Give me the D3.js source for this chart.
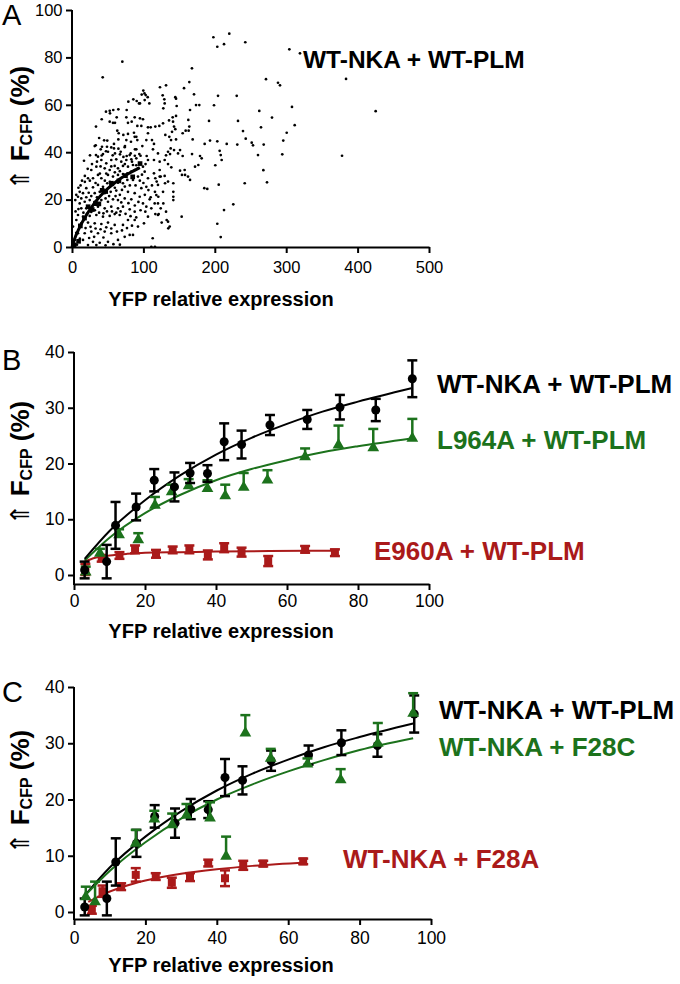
<!DOCTYPE html>
<html><head><meta charset="utf-8">
<script src="https://cdn.jsdelivr.net/npm/d3@7"></script>
<style>
body{margin:0;background:#fff}
svg{display:block}
text{font-family:"Liberation Sans",Arial,Helvetica,sans-serif}
</style>
</head><body>
<svg id="chart" width="680" height="984"></svg>
<script>
// ---------------- DATA ----------------
// Panel A: single-cell scatter (YFP relative expression, ΔF_CFP %)
const scatterX = [43,70.5,198,203.5,212.9,220.3,242.7,304.4,319.3,168,271.7,288.5,291.3,164.3,156.9,131.7,123.2,170.9,204.5,230.7,99.9,101.5,97.6,106,127,129.3,85.9,78.9,90.6,95.2,108.3,145.7,146.6,173.7,178.3,198.9,165.3,127.9,57.8,47.6,64.9,53.2,33.6,41.6,60.2,62.6,76.6,83.6,95.2,91.5,106.4,110.2,122.3,135.9,141,145.7,162.9,164.3,191.9,232.5,280.1,262.3,308.1,311.9,264.7,300.7,239.5,243.3,251.7,253.5,295.9,268.5,231.5,216.7,203.5,185.8,193.3,169,145.7,136.3,155,159.2,138.7,112,114.8,98.5,87.8,82.6,78.4,71.9,64.9,58.8,74.2,88.2,49,47.6,33.2,42,33.6,25.2,41.6,57,60.2,67.2,76.6,82.2,94.3,104.6,131.7,137.3,155,168.1,179.3,206.8,208.3,260.5,294.5,383.8,425.3,378.2,181.6,209.6,200.7,268,273.1,241.9,205.5,185.3,189.5,225.9,212.9,203.5,208.3,151.3,176.9,172.3,151.3,158.3,165.3,141.9,141.9,141.9,141.9,153.6,118.6,124.2,130.3,116.2,120.9,127.9,131.7,132.6,134.9,125.6,113,116.2,103.2,101.8,129.8,93.8,144.7,52.8,52.8,57.4,76.1,78.4,87.8,99.4,97.1,106.4,116.7,127.5,141.5,142.9,130.7,163.4,63.4,65.4,86.8,90.1,76.1,91.5,104.1,49.4,16.8,31.8,40.2,43.4,36.4,50.4,58.8,68.2,73.8,80.8,90.1,113.4,120.4,140.1,144.7,138.2,134.5,142.9,148.5,157.8,154,162.5,106.4,114.8,122.8,129.8,134.5,139.1,122.8,114.8,106.4,116.7,122.8,129.8,134.5,120.4,127.5,118.1,110.2,115.8,120.4,124.2,134.5,136.8,116.7,121.4,41.1,48,55,62,69,76.1,83.1,90.1,94.8,85.4,78.4,71.4,64.4,59.8,52.8,45.8,34.1,27,22.4,29.4,36.4,41.1,50.4,57.4,64.4,71.4,77.5,83.1,87.8,92.4,99.4,101.8,92.4,85.4,77.5,71.4,64.4,57.4,49.4,43.4,36.4,29.4,20,15.4,23.4,31.8,38.8,45.8,54.2,62,70,78.4,87.8,97.1,104.1,94.8,83.1,73.8,64.4,57.4,50.4,41.1,31.8,24.8,17.8,10.8,13,20,28,36.4,45.8,55,64.4,71.4,80.8,87.8,66.8,59.8,52.8,43.4,34.1,24.8,15.4,8.4,6.1,13,22.4,31.8,41.1,50.4,59.8,71.4,78.4,87.8,92.4,80.8,85.4,73.8,64.4,55,45.8,36.4,27,17.8,8.4,3.8,15.4,29.4,38.8,50.4,34.1,22.4,111.1,120.4,104.1,111.1,106.4,100.8,108.8,99.4,102.7,1.4,10.8,8.4,4.6,12,18,25,33,39,46,53,60,67,74,81,89,95,98,90,84,74,67,60,55,48,40,35,28,22,18,14,9,6,5,9,16,21,27,32,38,44,49,56,62,68,75,82,90,96,93,88,79,69,61,52,47,42,35,27,20,13,11,19,26,33,40,48,55,63,70,77,84,6,11,24,31,44,58,67,47,3,1.5,7,102,107,112,100,103,96,88,72,65,55,45,38];
const scatterY = [71.6,78.2,88.5,84.5,85.6,90,86.4,83.4,81.7,75.4,70.8,69.3,68.2,69.6,67,68.2,67.4,64.4,63.8,63.8,66,64.8,64.3,63.2,64,62.3,62.3,61.3,61.6,60.6,60.6,62.6,59.5,59.9,59.9,59.8,57.8,58.5,57.8,57.1,58.1,56.4,50.8,53.9,52.4,54.7,57.8,52.9,54.3,51.1,50.5,50.5,51.1,53.4,54.7,55.3,53.6,50.8,53.2,53.2,54.6,57.4,59.1,51.4,50.5,48.2,48.9,45.7,44,42.9,44.9,43.2,43.2,43.5,44.6,43.5,44.9,45.4,45.4,46.5,48,49.1,45.1,45.1,43.5,42.6,46.5,44.4,47.7,47.3,45.4,43.5,42.6,41.2,42.3,40.4,42.9,42.3,38.8,38.7,38.6,38.7,39.5,39.1,38.4,39.5,39.2,38.4,38.7,39.2,38.4,39.2,38.4,40.6,38.8,38.8,39.1,70.9,57.3,38.5,37.4,36.7,34.5,32.4,27.3,26.9,26.3,24.8,24.5,18,15.6,9.8,4.2,40.9,34.6,33.9,32.2,30.4,28.3,26.9,23.3,21.2,19.8,12.8,27.6,29.7,26.9,23.3,21.2,18.4,14.9,11.4,7.9,10.3,3.7,0.1,64.1,62,60.6,60.6,63.2,57.5,52.9,52.4,54.7,52.4,54.7,53.9,51.1,48,50.8,52.2,52.9,50.8,47.3,49.1,49.1,48,48.2,46.5,45.1,45.1,45.1,44.9,36.4,42.6,41.2,39.2,38.1,40.2,41.6,40.2,42.1,38.8,41.2,41.2,39.5,48.6,49.7,41.6,40.2,40.9,39.5,32.5,30.4,29.7,36.7,36.7,36,36.7,35,33.6,32.5,31.1,29,29,29.7,30,27.6,26.2,23.3,21.9,21,18.4,18.4,16.3,10.7,8.6,13.9,13.9,36.7,35.3,36.7,37,36,36.7,37,37.4,35,34.6,33.9,34.2,33.2,34.2,32.5,33.2,33.9,32.5,29,29,30.4,29,30.4,29.7,30.4,30.8,31.1,31.8,32.5,33.2,33.9,31.8,29.7,28.3,28.3,26.9,27.1,26.2,26.9,25.4,26.2,25.2,24.8,22.7,22.9,22.7,23.3,22.7,23.3,23.8,24.1,23.3,22.7,24.8,25.4,21.2,20.1,20.5,19.8,20.1,19.1,19.8,19.1,19.8,19.1,18.4,16.3,16.3,16.3,17,16.3,17,16.3,17,15.9,14.9,13.5,13.9,13.1,12.8,13.5,13.1,12.8,13.5,11.4,10,10.3,10,9.7,10.3,9.3,9.3,11.4,11.4,8.6,5.1,5.1,4.3,3,5.8,6.5,5.8,6.5,5.8,5.8,3,3,2.2,1.8,2.2,0.8,0.8,0.1,13.5,17,16.3,12.8,10,20.1,18.4,14.9,8.6,23.3,21.2,19.8,26,27.5,28,27,31,28,27.5,25,22,25.5,26,26,28,30.5,34.5,36,35,32,31.5,34,31,34,36,35,33,30,28,25,22,15,16,14.5,14,14.8,15.5,14.5,14.2,15,15,14.5,15,14,13,12.5,15.5,19,17.5,18.5,18.8,21.5,21.5,20.5,24,21,21.5,21,20.5,9,8,8.5,7.8,7.5,8.3,7.8,6.5,7,8,9,6,3.5,3.8,4.3,4,1.2,1,0.7,0.5,1.5,1,22,24,26,27,35,38.5,38.5,38,41.5,42,45,46];

// Panels B & C: binned means ± SEM
const wtX   = [3.0, 9.2, 11.7, 17.5, 22.6, 28.3, 32.7, 37.6, 42.3, 47.2, 55.2, 65.7, 74.9, 85.0, 95.3];
const wtY   = [0.9, 2.4, 8.9, 12.2, 17.0, 15.8, 18.3, 18.2, 23.9, 23.4, 26.9, 27.9, 30.1, 29.6, 35.2];
const wtErr = [1.5, 3.0, 4.2, 2.4, 2.0, 2.6, 1.8, 1.5, 3.3, 2.5, 1.8, 1.7, 2.2, 2.0, 3.3];

const l964aX   = [3.3, 7.3, 12.7, 18.1, 22.8, 27.5, 32.3, 37.6, 42.6, 47.8, 54.5, 65.1, 74.5, 84.3, 95.3];
const l964aY   = [0.5, 3.9, 7.2, 6.3, 12.5, 14.9, 16.0, 15.5, 14.2, 15.7, 17.0, 21.2, 23.3, 22.8, 24.5];
const l964aErr = [1.0, 0.8, 1.0, 1.2, 1.5, 1.3, 1.2, 1.5, 2.0, 2.6, 1.8, 1.5, 3.5, 3.4, 3.5];

const e960aX   = [3.2, 7.8, 12.8, 17.2, 23.1, 27.8, 32.5, 37.7, 42.3, 47.2, 54.7, 65.1, 73.5];
const e960aY   = [1.0, 3.0, 3.5, 4.6, 3.8, 4.5, 4.6, 3.6, 4.9, 4.1, 2.5, 4.6, 4.0];
const e960aErr = [1.0, 0.6, 0.6, 0.7, 0.7, 0.6, 0.7, 0.8, 0.8, 0.8, 0.9, 0.6, 0.6];

const f28cX   = [3.3, 5.9, 17.3, 22.5, 27.5, 31.5, 38.1, 42.6, 48.0, 55.1, 65.4, 74.7, 85.1, 95.0];
const f28cY   = [2.7, 1.8, 12.2, 16.5, 15.5, 17.2, 16.7, 9.9, 31.8, 27.3, 26.3, 23.5, 30.0, 35.3];
const f28cErr = [1.8, 3.6, 2.4, 1.5, 2.0, 2.0, 2.8, 3.5, 3.2, 1.7, 1.0, 1.9, 3.6, 3.6];

const f28aX   = [5.0, 8.0, 13.2, 17.3, 22.9, 27.4, 32.5, 37.6, 42.3, 47.4, 53.0, 64.2];
const f28aY   = [0.4, 3.7, 4.5, 6.6, 6.3, 5.2, 6.2, 8.7, 6.0, 8.3, 8.6, 9.0];
const f28aErr = [0.7, 1.0, 0.6, 1.2, 0.6, 0.9, 0.7, 0.6, 1.4, 0.8, 0.5, 0.5];

// Fitted curves
const wtFitX = [0, 3, 10, 20, 30, 40, 50, 60, 70, 80, 95];
const wtFitY = [0, 2.9, 7.9, 13.4, 17.9, 21.6, 24.6, 27.1, 29.3, 31.1, 33.5];
const l964aFitX = [3, 10, 20, 30, 40, 50, 60, 70, 80, 95];
const l964aFitY = [2.6, 6.7, 11.1, 14.4, 17.0, 19.0, 20.6, 22.0, 23.1, 24.5];
const e960aFitX = [3, 6, 10, 15, 20, 30, 40, 55, 73.5];
const e960aFitY = [2.4, 3.1, 3.5, 3.8, 4.0, 4.1, 4.2, 4.3, 4.35];
const f28cFitX = [3, 10, 20, 30, 40, 50, 60, 70, 80, 95];
const f28cFitY = [2.9, 7.3, 12.4, 16.6, 20.0, 22.7, 25.0, 27.0, 28.8, 30.9];
const f28aFitX = [4, 8, 13.8, 20, 30, 40, 50, 65];
const f28aFitY = [1.8, 3.1, 4.5, 5.6, 6.8, 7.6, 8.2, 8.8];

// Ticks
const aXTicks = [0, 100, 200, 300, 400, 500];
const aYTicks = [0, 20, 40, 60, 80, 100];
const bcXTicks = [0, 20, 40, 60, 80, 100];
const bcYTicks = [0, 10, 20, 30, 40];

// Labels
const xTitle = "YFP relative expression";
const labelsA = ["WT-NKA + WT-PLM"];
const labelsB = ["WT-NKA + WT-PLM", "L964A + WT-PLM", "E960A + WT-PLM"];
const labelsC = ["WT-NKA + WT-PLM", "WT-NKA + F28C", "WT-NKA + F28A"];

const BLACK = "#000000", GREEN = "#1c721c", RED = "#aa1a1a";

// ---------------- DRAW ----------------
const svg = d3.select("#chart");

function axes(x, y, axisY, axisX, xt, yt, xPad, yPad, fs) {
  const gx = svg.append("g").attr("transform", `translate(0,${axisY})`)
    .call(d3.axisBottom(x).tickValues(xt).tickSize(6).tickSizeOuter(0).tickPadding(xPad));
  const gy = svg.append("g").attr("transform", `translate(${axisX},0)`)
    .call(d3.axisLeft(y).tickValues(yt).tickSize(6).tickSizeOuter(0).tickPadding(yPad));
  gy.select(".domain").attr("d", `M0,${y(yt[yt.length - 1])}V${axisY + 1}`);
  [gx, gy].forEach(g => {
    g.select(".domain").attr("stroke", "#000").attr("stroke-width", 2);
    g.selectAll(".tick line").attr("stroke", "#000").attr("stroke-width", 2);
    g.selectAll(".tick text").attr("fill", "#000").attr("font-size", fs)
      .attr("font-family", '"Liberation Sans",Arial,sans-serif');
  });
}

function yLabel(cx, cy) {
  const t = svg.append("text")
    .attr("transform", `translate(${cx},${cy}) rotate(-90)`)
    .attr("text-anchor", "middle").attr("font-size", 26).attr("font-weight", "bold").attr("fill", "#000");
  t.append("tspan").attr("font-weight", "normal").attr("font-size", 26)
    .attr("font-family", '"DejaVu Sans",sans-serif').text("\u21D1");
  t.append("tspan").text(" F");
  t.append("tspan").attr("font-size", 16).attr("dy", 3).text("CFP");
  t.append("tspan").attr("dy", -3).text(" (%)");
}

function xLabel(cx, by) {
  svg.append("text").attr("x", cx).attr("y", by).attr("text-anchor", "middle")
    .attr("font-size", 20).attr("font-weight", "bold").attr("fill", "#000").text(xTitle);
}

function letter(ch, x, by) {
  svg.append("text").attr("x", x).attr("y", by).attr("font-size", 29).attr("fill", "#000").text(ch);
}

function legendText(txt, x, by, col, fs) {
  svg.append("text").attr("x", x).attr("y", by).attr("font-size", fs || 26).attr("font-weight", "bold")
    .attr("fill", col).text(txt);
}

function fitLine(x, y, fx, fy, col, w) {
  const pts = fx.map((v, i) => [v, fy[i]]);
  svg.append("path").datum(pts)
    .attr("d", d3.line().x(d => x(d[0])).y(d => y(d[1])).curve(d3.curveMonotoneX))
    .attr("fill", "none").attr("stroke", col).attr("stroke-width", w);
}

function series(x, y, xs, ys, es, col, symbol, size, both) {
  const g = svg.append("g");
  xs.forEach((v, i) => {
    const cx = x(v), cy = y(ys[i]), top = y(ys[i] + es[i]), bot = both ? y(ys[i] - es[i]) : cy;
    g.append("line").attr("x1", cx).attr("x2", cx).attr("y1", top).attr("y2", bot)
      .attr("stroke", col).attr("stroke-width", 2.5);
    g.append("line").attr("x1", cx - 5).attr("x2", cx + 5).attr("y1", top).attr("y2", top)
      .attr("stroke", col).attr("stroke-width", 2.5);
    if (both) g.append("line").attr("x1", cx - 5).attr("x2", cx + 5).attr("y1", bot).attr("y2", bot)
      .attr("stroke", col).attr("stroke-width", 2.5);
    g.append("path").attr("transform", `translate(${cx},${cy})`)
      .attr("d", d3.symbol().type(symbol).size(size)()).attr("fill", col);
  });
}

// ---- Panel A ----
{
  const x = d3.scaleLinear().domain([0, 500]).range([72, 429]);
  const y = d3.scaleLinear().domain([0, 100]).range([247, 10]);
  svg.append("g").selectAll("circle").data(scatterX.map((v, i) => [v, scatterY[i]])).join("circle")
    .attr("cx", d => x(d[0])).attr("cy", d => y(d[1])).attr("r", 1.35).attr("fill", "#000");
  fitLine(x, y, wtFitX, wtFitY, BLACK, 3);
  svg.append("g").selectAll("path").data(wtX.map((v, i) => [v, wtY[i]])).join("path")
    .attr("transform", d => `translate(${x(d[0])},${y(d[1])})`)
    .attr("d", d3.symbol().type(d3.symbolSquare).size(22)()).attr("fill", "#000");
  axes(x, y, 247, 72, aXTicks, aYTicks, 8, 3.5, 16.5);
  yLabel(29, 128);
  xLabel(221, 306);
  letter("A", 2, 25);
  legendText(labelsA[0], 303, 68, BLACK, 24.5);
}

// ---- Panel B ----
{
  const x = d3.scaleLinear().domain([0, 100]).range([74, 429]);
  const y = d3.scaleLinear().domain([0, 40]).range([575, 352]);
  fitLine(x, y, e960aFitX, e960aFitY, RED, 2);
  fitLine(x, y, l964aFitX, l964aFitY, GREEN, 2);
  fitLine(x, y, wtFitX.slice(1), wtFitY.slice(1), BLACK, 2);
  series(x, y, e960aX, e960aY, e960aErr, RED, d3.symbolSquare, 64, true);
  series(x, y, l964aX, l964aY, l964aErr, GREEN, d3.symbolTriangle, 60, false);
  series(x, y, wtX, wtY, wtErr, BLACK, d3.symbolCircle, 64, true);
  axes(x, y, 584, 74, bcXTicks, bcYTicks, 4.5, 3.5, 17.5);
  yLabel(29, 463);
  xLabel(221, 638);
  letter("B", 2, 370);
  legendText(labelsB[0], 437, 393, BLACK);
  legendText(labelsB[1], 437, 449, GREEN);
  legendText(labelsB[2], 374, 560, RED);
}

// ---- Panel C ----
{
  const x = d3.scaleLinear().domain([0, 100]).range([74, 431]);
  const y = d3.scaleLinear().domain([0, 40]).range([912, 687]);
  fitLine(x, y, f28aFitX, f28aFitY, RED, 2);
  fitLine(x, y, wtFitX.slice(1), wtFitY.slice(1), BLACK, 2);
  fitLine(x, y, f28cFitX, f28cFitY, GREEN, 2);
  series(x, y, f28aX, f28aY, f28aErr, RED, d3.symbolSquare, 64, true);
  series(x, y, wtX, wtY, wtErr, BLACK, d3.symbolCircle, 64, true);
  series(x, y, f28cX, f28cY, f28cErr, GREEN, d3.symbolTriangle, 60, false);
  axes(x, y, 919, 74, bcXTicks, bcYTicks, 6.5, 3.5, 17.5);
  yLabel(29, 792);
  xLabel(221, 972);
  letter("C", 2, 702);
  legendText(labelsC[0], 439, 719, BLACK);
  legendText(labelsC[1], 439, 756, GREEN);
  legendText(labelsC[2], 343, 868, RED);
}
</script>
</body></html>
